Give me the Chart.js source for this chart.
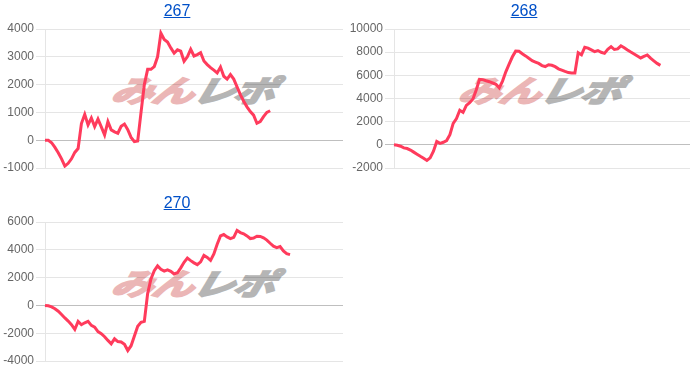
<!DOCTYPE html>
<html>
<head>
<meta charset="utf-8">
<script src="https://cdn.jsdelivr.net/npm/chart.js@4"></script>
<style>
  body { margin: 0; background: #fff; width: 700px; height: 384px; overflow: hidden; position: relative; }
  .panel { position: absolute; width: 350px; height: 193px; }
  .panel canvas { position: absolute; left: 0; top: 0; z-index: 1; }
  .title { position: absolute; width: 100px; text-align: center; font: 16px/16px "Liberation Sans", Arial, sans-serif; z-index: 2; }
  .title a { color: #0050c8; text-decoration: underline; }
  .wm { position: absolute; z-index: 0; white-space: nowrap; letter-spacing: -1px;
        font: italic bold 30px/30px "Noto Sans CJK JP", sans-serif;
        transform: translate(-50%, -50%) skewX(-14deg) scaleX(1.4); }
  .wm .a { color: #ebb6b6; -webkit-text-stroke: 2px #ebb6b6; }
  .wm .b { color: #b5b5b5; -webkit-text-stroke: 2px #b5b5b5; }
</style>
</head>
<body>

<div class="title" style="left:127px; top:3px;"><a href="#">267</a></div>
<div class="title" style="left:474px; top:3px;"><a href="#">268</a></div>
<div class="title" style="left:127px; top:195px;"><a href="#">270</a></div>

<div class="panel" style="left:0; top:0;">
  <div class="wm" style="left:194px; top:89px;"><span class="a">みん</span><span class="b">レポ</span></div>
  <canvas id="chart267" width="350" height="193"></canvas>
</div>
<div class="panel" style="left:350px; top:0;">
  <div class="wm" style="left:191px; top:89px;"><span class="a">みん</span><span class="b">レポ</span></div>
  <canvas id="chart268" width="350" height="193"></canvas>
</div>
<div class="panel" style="left:0; top:193px;">
  <div class="wm" style="left:194px; top:89px;"><span class="a">みん</span><span class="b">レポ</span></div>
  <canvas id="chart270" width="350" height="193"></canvas>
</div>

<script>
// x axis is shared and hidden: 91 slots, each series fills only the first part
const slotCount = 91
const xLabels = []
for (let i = 0; i < slotCount; i++) xLabels.push('')

const data267 = [0, 0, -90, -260, -450, -670, -930, -830, -670, -440,
  -300, 600, 930, 550, 800, 490, 760, 480, 190, 670,
  370, 300, 250, 500, 580, 380, 100, -50, -30, 1000,
  2000, 2550, 2550, 2650, 3000, 3850, 3620, 3530, 3320, 3130,
  3250, 3200, 2840, 3000, 3270, 3030, 3080, 3150, 2850, 2720,
  2610, 2520, 2420, 2630, 2300, 2200, 2360, 2200, 1920, 1640,
  1400, 1200, 1030, 900, 610, 670, 850, 1000, 1060]

const data268 = [0, -40, -120, -260, -320, -450, -630, -810, -990, -1160,
  -1350, -1120, -550, 290, 130, 220, 370, 880, 1850, 2270,
  2980, 2800, 3400, 3640, 3950, 4730, 5660, 5630, 5530, 5450,
  5340, 5230, 4920, 5500, 6300, 6960, 7600, 8090, 8080, 7860,
  7680, 7470, 7270, 7150, 7030, 6840, 6760, 6910, 6870, 6750,
  6560, 6450, 6340, 6240, 6200, 6200, 7950, 7770, 8430, 8350,
  8200, 8050, 8140, 7990, 7900, 8250, 8480, 8230, 8280, 8550,
  8380, 8190, 8010, 7840, 7670, 7500, 7640, 7760, 7480, 7250,
  7030, 6860]

const data270 = [0, -30, -110, -240, -420, -650, -900, -1130, -1390, -1730,
  -1150, -1390, -1250, -1150, -1440, -1560, -1880, -2030, -2250, -2520,
  -2760, -2400, -2600, -2630, -2800, -3250, -2900, -2200, -1500, -1220,
  -1150, 850, 1900, 2500, 2840, 2600, 2470, 2560, 2450, 2260,
  2350, 2700, 3100, 3400, 3220, 3060, 2930, 3130, 3600, 3450,
  3240, 3700, 4400, 5000, 5100, 4930, 4800, 4900, 5400, 5240,
  5150, 5000, 4810, 4850, 4980, 4960, 4860, 4700, 4470, 4260,
  4160, 4230, 3920, 3720, 3650]

// y ranges as shown on each chart: [min, max, step]
const range267 = [-1000, 4000, 1000]
const range268 = [-2000, 10000, 2000]
const range270 = [-4000, 6000, 2000]

function draw_chart(id, values, range, axisWidth, rightPad){
  var ctx = document.getElementById(id).getContext('2d');
  return new Chart(ctx, {
    type: 'line',
    data: {
      labels: xLabels,
      datasets: [{
        data: values,
        borderColor: '#ff3b5c',
        borderWidth: 3,
        pointRadius: 0,
        tension: 0,
        fill: false
      }]
    },
    options: {
      responsive: false,
      animation: false,
      layout: { padding: { left: 0, top: 29, right: rightPad, bottom: 25 } },
      plugins: { legend: { display: false }, tooltip: { enabled: false } },
      scales: {
        x: { display: false },
        y: {
          min: range[0],
          max: range[1],
          afterFit: function(scale){ scale.width = axisWidth },
          ticks: {
            stepSize: range[2],
            padding: 2,
            color: '#666',
            font: { family: '"Liberation Sans", Arial, sans-serif', size: 12 },
            callback: function(v){ return String(v) }
          },
          grid: {
            tickLength: 9,
            color: function(c){ return c.tick && c.tick.value === 0 ? 'rgba(0,0,0,0.25)' : 'rgba(0,0,0,0.1)' }
          },
          border: { color: 'rgba(0,0,0,0.1)' }
        }
      }
    }
  });
}

draw_chart('chart267', data267, range267, 45, 7)
draw_chart('chart268', data268, range268, 44, 10)
draw_chart('chart270', data270, range270, 45, 7)
</script>
</body>
</html>
